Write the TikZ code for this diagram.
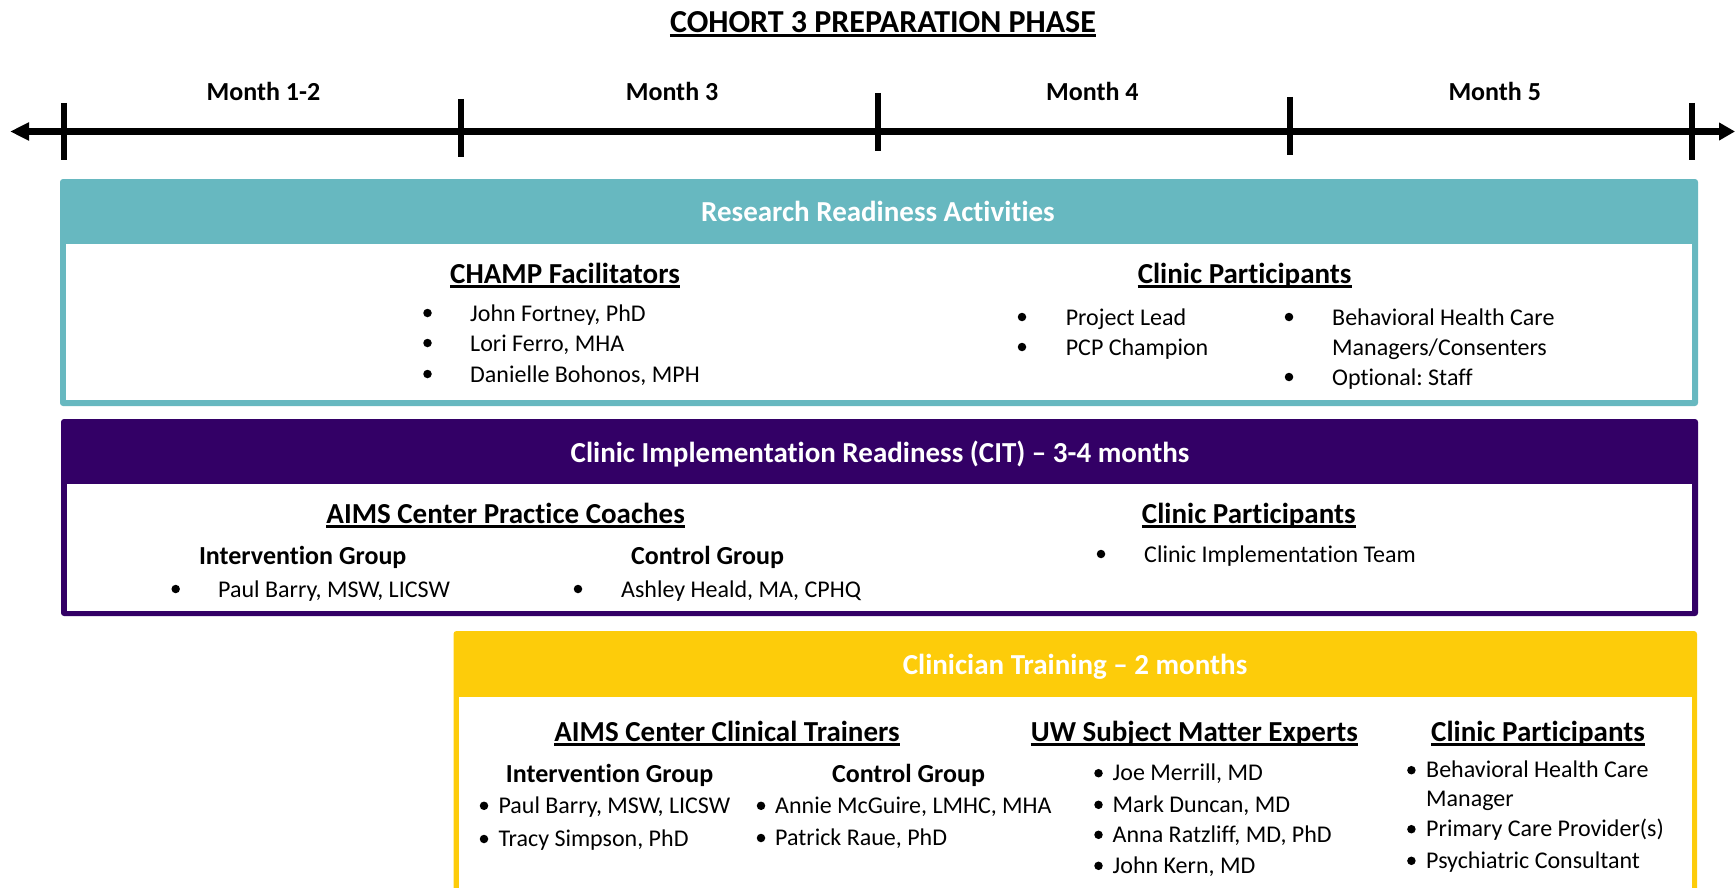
\documentclass[tikz,border=0pt]{standalone}
\usepackage{fontspec}
\setmainfont{Carlito}[Ligatures=NoCommon]
\usetikzlibrary{arrows.meta}
\definecolor{tealc}{HTML}{67B8C0}
\definecolor{purpc}{HTML}{330066}
\definecolor{yelc}{HTML}{FDCC0A}
\frenchspacing
\tikzset{
 ttl/.style={font=\fontsize{32}{38}\selectfont\bfseries, anchor=base, inner sep=0pt},
 mon/.style={font=\fontsize{26}{31}\selectfont\bfseries, anchor=base, inner sep=0pt},
 hdr/.style={font=\fontsize{29}{35}\selectfont\bfseries, text=white, anchor=base, inner sep=0pt},
 sec/.style={font=\fontsize{29}{35}\selectfont\bfseries, anchor=base, inner sep=0pt},
 sub/.style={font=\fontsize{26}{31}\selectfont\bfseries, anchor=base, inner sep=0pt},
 itm/.style={font=\fontsize{24}{29}\selectfont, anchor=base west, inner sep=0pt},
 ulin/.style={line width=2.6pt},
 bul/.style={fill=black, circle, inner sep=0pt, minimum size=8.5pt},
 tickmark/.style={line width=6pt},
}
\newcommand{\ulnode}[1]{\draw[ulin] ([yshift=-3pt]#1.base west) -- ([yshift=-3pt]#1.base east);}
\begin{document}
\begin{tikzpicture}[x=1pt,y=-1pt]
\useasboundingbox (0,0) rectangle (1736,888);
\clip (0,0) rectangle (1736,888);
% title
\node[ttl] (title) at (883,32.5) {COHORT 3 PREPARATION PHASE};
\draw[line width=3pt] ([yshift=-3.5pt]title.base west) -- ([yshift=-3.5pt]title.base east);
% timeline
\coordinate (tl) at (10,131.5);
\coordinate (tr) at (1735,131.5);
\draw[line width=6pt, {Triangle[length=19pt,width=17pt]}-{Triangle[length=16pt,width=17pt]}] (tl) -- (tr);
\coordinate (k1a) at (64,103); \coordinate (k1b) at (64,160);
\coordinate (k2a) at (461,99); \coordinate (k2b) at (461,157);
\coordinate (k3a) at (877.5,93); \coordinate (k3b) at (877.5,151);
\coordinate (k4a) at (1290,97); \coordinate (k4b) at (1290,155);
\coordinate (k5a) at (1692,103); \coordinate (k5b) at (1692,160);
\foreach \k in {1,...,5} {\draw[tickmark] (k\k a) -- (k\k b);}
\node[mon] (m1) at (263.5,100.7) {Month 1-2};
\node[mon] (m3) at (672,100.7) {Month 3};
\node[mon] (m4) at (1092.4,100.7) {Month 4};
\node[mon] (m5) at (1494.7,100.7) {Month 5};
% ---------- Box 1
\fill[tealc, rounded corners=3pt] (60,179) rectangle (1698,406);
\fill[white] (66,244) rectangle (1692,400);
\node[hdr] (h1) at (878,221.7) {Research Readiness Activities};
\node[sec] (s1a) at (565,283.3) {CHAMP Facilitators}; \ulnode{s1a}
\node[sec] (s1b) at (1244.6,283.3) {Clinic Participants}; \ulnode{s1b}
\foreach \i/\yb/\t in {1/321/{John Fortney, PhD},2/351/{Lori Ferro, MHA},3/382/{Danielle Bohonos, MPH}} {
  \node[bul] (cb\i) at (427.5,\yb-8) {};
  \node[itm] (ct\i) at (470,\yb) {\t};
}
\foreach \i/\yb/\t in {1/325/{Project Lead},2/355/{PCP Champion}} {
  \node[bul] (pb\i) at (1022,\yb-8) {};
  \node[itm] (pt\i) at (1065.6,\yb) {\t};
}
\node[bul] (qb1) at (1289,317) {};
\node[itm] (qt1) at (1332,325) {Behavioral Health Care};
\node[itm] (qt2) at (1332,355) {Managers/Consenters};
\node[bul] (qb3) at (1289,377) {};
\node[itm] (qt3) at (1332,385) {Optional: Staff};
% ---------- Box 2
\fill[purpc, rounded corners=3pt] (61,419) rectangle (1698,616);
\fill[white] (67,483.5) rectangle (1692,610.5);
\node[hdr] (h2) at (880,462.7) {Clinic Implementation Readiness (CIT) – 3-4 months};
\node[sec] (s2a) at (505.7,523.3) {AIMS Center Practice Coaches}; \ulnode{s2a}
\node[sec] (s2b) at (1248.8,523.3) {Clinic Participants}; \ulnode{s2b}
\node[sub] (g2a) at (302.7,564) {Intervention Group};
\node[sub] (g2b) at (707.5,564) {Control Group};
\node[bul] (ib1) at (175.7,589) {};
\node[itm] (it1) at (218,597) {Paul Barry, MSW, LICSW};
\node[bul] (ab1) at (578,589) {};
\node[itm] (at1) at (621,597) {Ashley Heald, MA, CPHQ};
\node[bul] (tb1) at (1101,554) {};
\node[itm] (tt1) at (1144,562) {Clinic Implementation Team};
% ---------- Box 3
\fill[yelc, rounded corners=3pt] (453.5,631) rectangle (1697,900);
\fill[white] (459,697) rectangle (1691.5,900);
\node[hdr] (h3) at (1075,674) {Clinician Training – 2 months};
\node[sec] (s3a) at (727,741.7) {AIMS Center Clinical Trainers}; \ulnode{s3a}
\node[sec] (s3b) at (1194.4,741.7) {UW Subject Matter Experts}; \ulnode{s3b}
\node[sec] (s3c) at (1538,741.7) {Clinic Participants}; \ulnode{s3c}
\node[sub] (g3a) at (609.6,782) {Intervention Group};
\node[sub] (g3b) at (908.5,782) {Control Group};
\foreach \i/\yb/\t in {1/813.3/{Paul Barry, MSW, LICSW},2/846.5/{Tracy Simpson, PhD}} {
  \node[bul] (vb\i) at (484,\yb-7.5) {};
  \node[itm] (vt\i) at (498.3,\yb) {\t};
}
\foreach \i/\yb/\t in {1/813.3/{Annie McGuire, LMHC, MHA},2/845.5/{Patrick Raue, PhD}} {
  \node[bul] (wb\i) at (761,\yb-7.5) {};
  \node[itm] (wt\i) at (775,\yb) {\t};
}
\foreach \i/\yb/\t in {1/780.7/{Joe Merrill, MD},2/812.3/{Mark Duncan, MD},3/842.3/{Anna Ratzliff, MD, PhD},4/873.3/{John Kern, MD}} {
  \node[bul] (ub\i) at (1098.5,\yb-7.5) {};
  \node[itm] (ut\i) at (1112.5,\yb) {\t};
}
\node[bul] (rb1) at (1411.4,770.2) {};
\node[itm] (rt1) at (1426,777.7) {Behavioral Health Care};
\node[itm] (rt2) at (1426,806.7) {Manager};
\node[bul] (rb3) at (1411.4,829.2) {};
\node[itm] (rt3) at (1426,836.7) {Primary Care Provider(s)};
\node[bul] (rb4) at (1411.4,860.8) {};
\node[itm] (rt4) at (1426,868.3) {Psychiatric Consultant};
\end{tikzpicture}
\end{document}
